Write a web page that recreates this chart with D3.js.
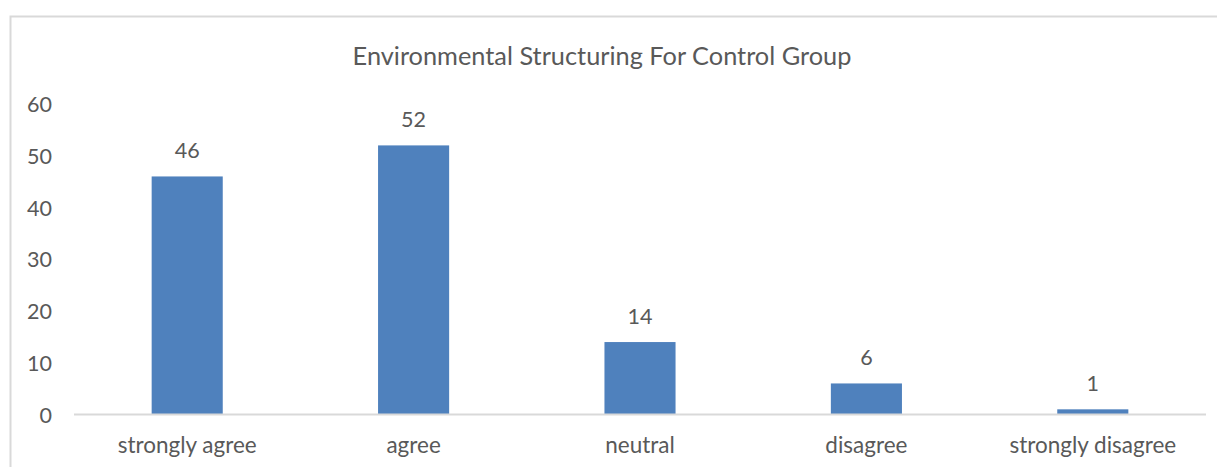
<!DOCTYPE html>
<html>
<head>
<meta charset="utf-8">
<script src="https://cdn.jsdelivr.net/npm/d3@7"></script>
<style>
  html, body { margin: 0; padding: 0; background: #ffffff; }
  svg { display: block; }
  text { font-family: Lato, "Open Sans", sans-serif; fill: #595959; }
</style>
</head>
<body>
<svg id="chart" width="1217" height="467"></svg>
<script>
const title = "Environmental Structuring For Control Group";
const categories = ["strongly agree", "agree", "neutral", "disagree", "strongly disagree"];
const values = [46, 52, 14, 6, 1];
const yTicks = [0, 10, 20, 30, 40, 50, 60];

const W = 1217, H = 467;
const plot = { left: 74, right: 1206, top: 104, bottom: 414.5 };

const svg = d3.select("#chart");

// chart border (top and left visible)
svg.append("path")
  .attr("d", `M10.5,${H} L10.5,16.5 L${W},16.5`)
  .attr("fill", "none").attr("stroke", "#d9d9d9").attr("stroke-width", 2);

const x = d3.scaleBand().domain(categories).range([plot.left, plot.right])
  .paddingInner(0.686).paddingOuter(0.343);
const y = d3.scaleLinear().domain([0, 60]).range([plot.bottom, plot.top]);

function fit(sel, target, base) {
  sel.style("font-size", base + "px");
  const w = sel.node().getComputedTextLength();
  sel.style("font-size", (base * target / w) + "px");
  return base * target / w;
}

// title
const t = svg.append("text").attr("x", 602).attr("y", 65).attr("text-anchor", "middle").text(title);
fit(t, 499, 24);

// y axis labels
const yAxis = d3.axisLeft(y).tickValues(yTicks).tickSize(0).tickPadding(0);
const yg = svg.append("g").attr("transform", `translate(52,0)`).call(yAxis);
yg.select(".domain").remove();
yg.selectAll("text").attr("fill", "#595959").attr("dy", "0.35em")
  .style("font-family", "Lato, 'Open Sans', sans-serif");
const ySize = fit(yg.selectAll("text").filter(d => d === 60), 25, 20);
yg.selectAll("text").style("font-size", ySize + "px");

// bars
svg.append("g").selectAll("rect").data(values).join("rect")
  .attr("x", (d, i) => x(categories[i]))
  .attr("width", x.bandwidth())
  .attr("y", d => y(d))
  .attr("height", d => y(0) - y(d))
  .attr("fill", "#4f81bd");

// x axis
const xAxis = d3.axisBottom(x).tickSize(0).tickPadding(0);
const xg = svg.append("g").attr("transform", `translate(0,${y(0)})`).call(xAxis);
xg.select(".domain").attr("stroke", "#d9d9d9").attr("stroke-width", 2)
  .attr("d", `M${plot.left},0H${plot.right}`);
xg.selectAll("text").attr("fill", "#595959").attr("dy", null).attr("y", 38)
  .style("font-family", "Lato, 'Open Sans', sans-serif");
const xSize = fit(xg.selectAll("text").filter(d => d === "strongly agree"), 139, 20);
xg.selectAll("text").style("font-size", xSize + "px");

// data labels
const lab = svg.append("g").selectAll("text").data(values).join("text")
  .attr("x", (d, i) => x(categories[i]) + x.bandwidth() / 2)
  .attr("y", d => y(d) - 18)
  .attr("text-anchor", "middle")
  .text(d => d);
lab.style("font-size", ySize + "px");
</script>
</body>
</html>
